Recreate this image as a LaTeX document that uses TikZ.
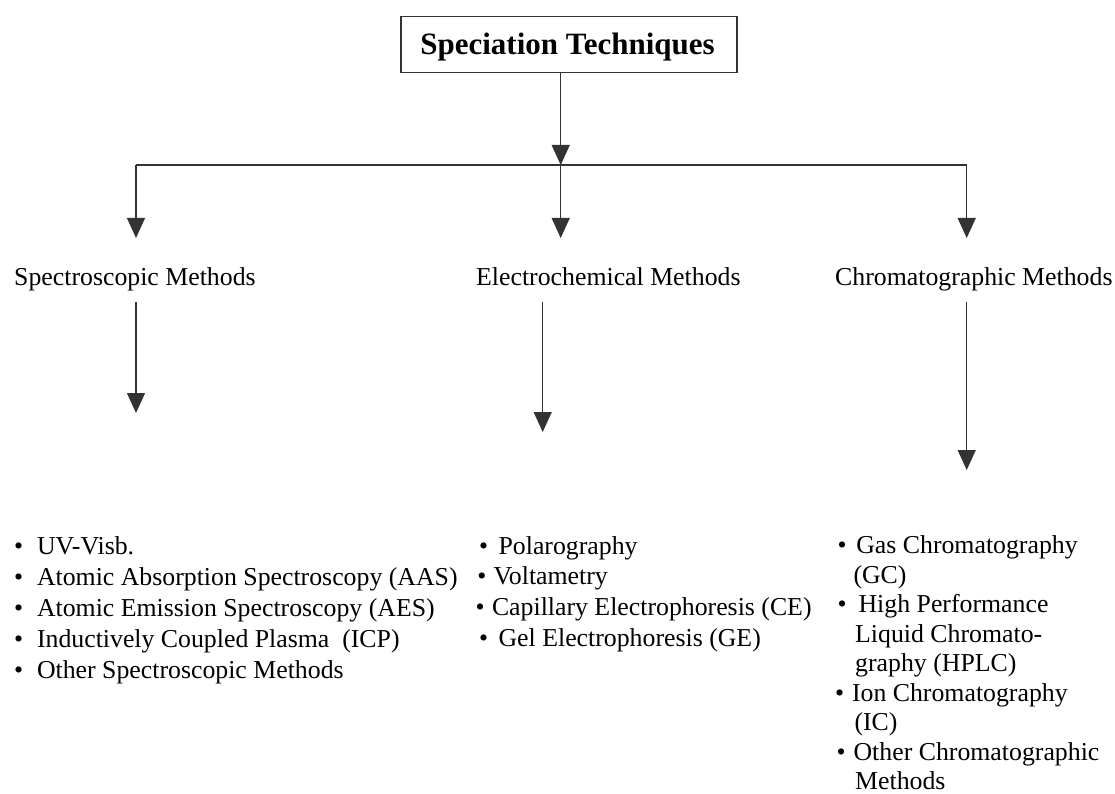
\documentclass[tikz,border=0pt]{standalone}
\usepackage{fontspec}
\setmainfont{Liberation Serif}
\usetikzlibrary{arrows.meta}
\begin{document}
\begin{tikzpicture}[x=1pt,y=-1pt,
  conn/.style={line width=1.3pt,draw=black!80},
  arr/.style={conn,-{Triangle[width=18pt,length=20pt]}},
  head/.style={inner sep=0pt,anchor=base west,text height=18pt,text depth=6pt,font=\fontsize{25.8}{31}\selectfont},
  lst/.style={inner sep=0pt,anchor=north west,align=left},
  titlebox/.style={draw=black!80,line width=1.3pt,inner sep=0pt,minimum width=336pt,minimum height=55.6pt,text height=21pt,text depth=0pt,font=\bfseries\fontsize{31}{36}\selectfont}
]
\useasboundingbox (0,0) rectangle (1115,794);
\node[titlebox] (title) at (569,44.5) {\hspace*{-3pt}Speciation Techniques};
\coordinate (j) at (560.7,165);
\coordinate (cl) at (136,165);
\coordinate (cr) at (966.7,165);
\node[head] (spec) at (14,285) {Spectroscopic Methods};
\node[head] (elec) at (476,285) {Electrochemical Methods};
\node[head] (chrom) at (835,285) {Chromatographic Methods};

\node[lst,font=\fontsize{25.8}{31.2}\selectfont] (speclist) at (13.9,536) {%
\textbullet\hspace{13.9pt}UV-Visb.\\
\textbullet\hspace{13.9pt}Atomic Absorption Spectroscopy (AAS)\\
\textbullet\hspace{13.9pt}Atomic Emission Spectroscopy (AES)\\
\textbullet\hspace{13.9pt}Inductively Coupled Plasma\ \ (ICP)\\
\textbullet\hspace{13.9pt}Other Spectroscopic Methods};

\node[lst,font=\fontsize{25.8}{30.8}\selectfont] (eleclist) at (475.5,536) {%
\hspace*{3.4pt}\textbullet\hspace{10.5pt}Polarography\\
\hspace*{1.7pt}\textbullet\hspace{7.2pt}Voltametry\\
\textbullet\hspace{7.3pt}Capillary Electrophoresis (CE)\\
\hspace*{3.4pt}\textbullet\hspace{10.5pt}Gel Electrophoresis (GE)};

\node[lst,font=\fontsize{25.8}{29.5}\selectfont] (chromlist) at (834.9,535.5) {%
\hspace*{2.4pt}\textbullet\hspace{9.8pt}Gas Chromatography\\
\hspace*{18.4pt}(GC)\\
\hspace*{2.4pt}\textbullet\hspace{12.1pt}High Performance\\
\hspace*{20.1pt}Liquid Chromato-\\
\hspace*{20.1pt}graphy (HPLC)\\
\textbullet\hspace{7.9pt}Ion Chromatography\\
\hspace*{19.4pt}(IC)\\
\hspace*{1.4pt}\textbullet\hspace{8.1pt}Other Chromatographic\\
\hspace*{20.1pt}Methods};

\draw[arr] (title.south -| j) -- (j);
\draw[conn] (cl) -- (cr);
\draw[arr] (cl) -- (cl |- 0,238);
\draw[arr] (j) -- (j |- 0,238);
\draw[arr] (cr) -- (cr |- 0,238);
\draw[arr] (spec.south -| cl) ++(0,11) -- (136,413);
\draw[arr] (elec.south -| 542.7,0) ++(0,11) -- (542.7,432);
\draw[arr] (chrom.south -| cr) ++(0,11) -- (966.7,470);
\end{tikzpicture}
\end{document}
